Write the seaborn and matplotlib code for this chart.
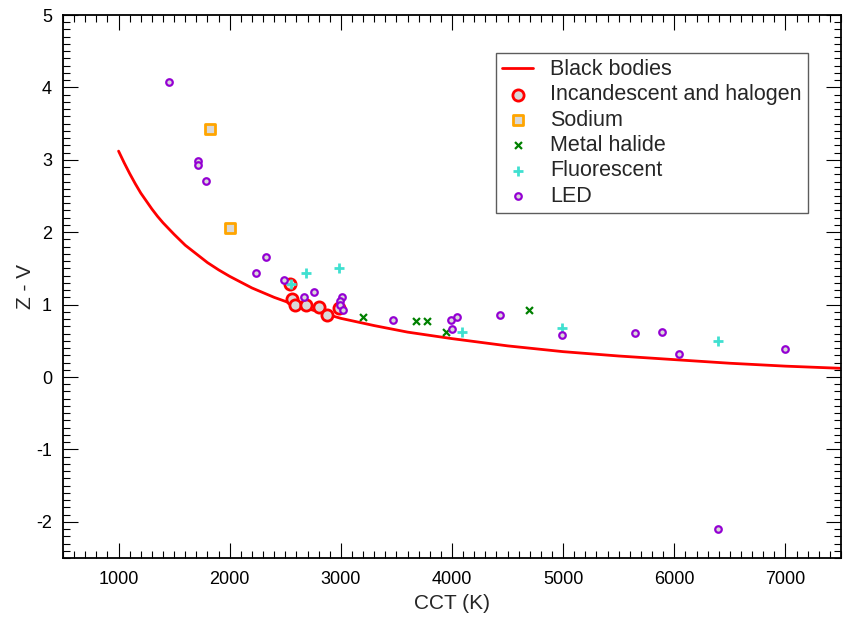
import numpy as np
import pandas as pd
import matplotlib
matplotlib.use("Agg")
import matplotlib.pyplot as plt
import seaborn as sns
from matplotlib.ticker import MultipleLocator

# curva de cuerpos negros
bb_cct = [1000, 1050, 1100, 1150, 1200, 1250, 1300, 1350, 1400, 1450, 1500, 1600,
          1700, 1800, 1900, 2000, 2100, 2200, 2400, 2600, 2800, 3000, 3300, 3600,
          4000, 4500, 5000, 5500, 6000, 6500, 7000, 7500]
bb_zv = [3.12, 2.96, 2.81, 2.67, 2.54, 2.43, 2.32, 2.22, 2.13, 2.05, 1.97, 1.82,
         1.70, 1.58, 1.48, 1.39, 1.31, 1.23, 1.10, 0.99, 0.90, 0.81, 0.71, 0.62,
         0.53, 0.43, 0.35, 0.29, 0.24, 0.19, 0.15, 0.12]

# fuentes de luz
inc_cct = [2545, 2563, 2584, 2689, 2803, 2872, 2980]
inc_zv = [1.29, 1.08, 0.99, 1.00, 0.96, 0.86, 0.95]

sod_cct = [1820, 2000]
sod_zv = [3.42, 2.06]

mh_cct = [3199, 3674, 3776, 3950, 4694]
mh_zv = [0.83, 0.78, 0.78, 0.62, 0.93]

fl_cct = [2554, 2689, 2987, 4094, 4990, 6395]
fl_zv = [1.28, 1.43, 1.51, 0.62, 0.67, 0.50]

led_cct = [1450, 1714, 1714, 1790, 2234, 2330, 2488, 2671, 2758, 3010, 2990, 2995,
           3015, 3470, 3989, 4049, 4000, 4432, 4990, 5648, 5891, 6044, 6998, 6395]
led_zv = [4.08, 2.98, 2.93, 2.71, 1.44, 1.66, 1.34, 1.10, 1.17, 1.11, 1.05, 0.99,
          0.93, 0.79, 0.79, 0.83, 0.66, 0.86, 0.58, 0.61, 0.62, 0.32, 0.39, -2.10]

sns.set_theme(style="ticks")
plt.rcParams['font.family'] = ['Liberation Sans', 'DejaVu Sans']
plt.rcParams['axes.unicode_minus'] = False

fig = plt.figure(figsize=(8.49, 6.23), dpi=100)
ax = fig.add_axes([63 / 849, 1 - 558 / 623, 778 / 849, 543 / 623])

relleno = '#d9d9d9'

sns.lineplot(x=bb_cct, y=bb_zv, ax=ax, color='red', lw=2, label='Black bodies', zorder=2)
sns.scatterplot(x=inc_cct, y=inc_zv, ax=ax, marker='o', s=65, color=relleno,
                edgecolor='red', linewidth=2, label='Incandescent and halogen', zorder=3)
sns.scatterplot(x=sod_cct, y=sod_zv, ax=ax, marker='s', s=45, color=relleno,
                edgecolor='orange', linewidth=2, label='Sodium', zorder=3)
sns.scatterplot(x=mh_cct, y=mh_zv, ax=ax, marker='x', s=25, color='green',
                linewidth=1.6, label='Metal halide', zorder=4)
sns.scatterplot(x=fl_cct, y=fl_zv, ax=ax, marker='+', s=55, color='turquoise',
                linewidth=2, label='Fluorescent', zorder=4)
sns.scatterplot(x=led_cct, y=led_zv, ax=ax, marker='o', s=22, color=relleno,
                edgecolor='darkviolet', linewidth=1.6, label='LED', zorder=5)

ax.set_xlim(500, 7500)
ax.set_ylim(-2.5, 5)
ax.xaxis.set_major_locator(MultipleLocator(1000))
ax.xaxis.set_minor_locator(MultipleLocator(100))
ax.yaxis.set_major_locator(MultipleLocator(1))
ax.yaxis.set_minor_locator(MultipleLocator(0.1))
ax.set_xticks([1000, 2000, 3000, 4000, 5000, 6000, 7000])
ax.tick_params(which='both', direction='in', top=True, right=True, colors='black',
               labelsize=13, width=0.8)
ax.tick_params(which='major', length=11)
ax.tick_params(which='minor', length=5)
ax.tick_params(axis='x', which='major', pad=9)
ax.tick_params(axis='y', which='major', pad=8)
for sp in ax.spines.values():
    sp.set_linewidth(1.3)
    sp.set_color('black')

ax.set_xlabel("CCT (K)", fontsize=15, labelpad=5)
ax.set_ylabel("Z - V", fontsize=15, labelpad=1)

leg = ax.legend(loc='upper right', bbox_to_anchor=(0.9576, 0.93), borderaxespad=0,
                fontsize=15.5, frameon=True, fancybox=False, handlelength=1.45,
                handletextpad=0.8, labelspacing=0.2, borderpad=0.28)
leg.get_frame().set_edgecolor('#333333')
leg.get_frame().set_linewidth(1.0)

fig.savefig("out.png", dpi=100)
